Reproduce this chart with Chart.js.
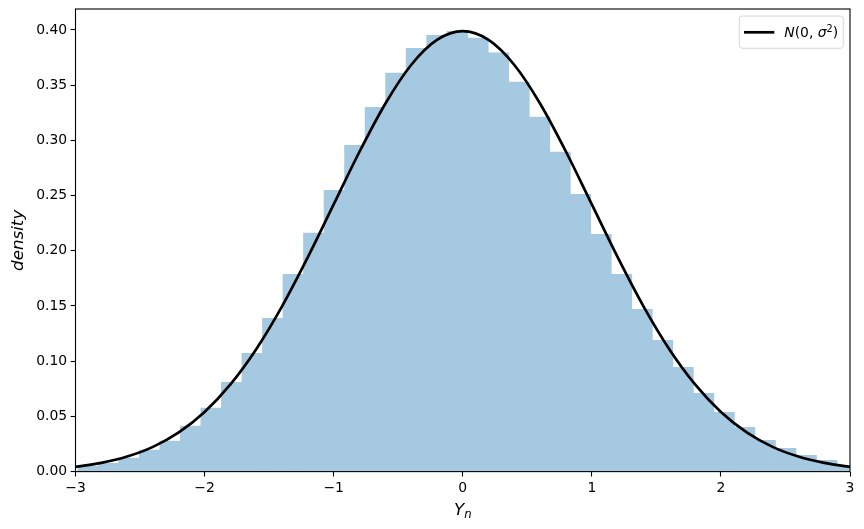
<!DOCTYPE html>
<html><head><meta charset="utf-8">
<script src="https://cdn.jsdelivr.net/npm/chart.js@4"></script>
<style>html,body{margin:0;padding:0;background:#fff}canvas{display:block}</style>
</head><body>
<canvas id="c" width="864" height="529"></canvas>
<script>
// Histogram bins (centers) and density heights
const binCenters = [-2.902,-2.744,-2.585,-2.426,-2.267,-2.108,-1.949,-1.790,-1.631,-1.472,
  -1.313,-1.154,-0.995,-0.836,-0.677,-0.518,-0.359,-0.200,-0.041,0.118,
  0.277,0.436,0.595,0.754,0.912,1.071,1.230,1.389,1.548,1.707,
  1.866,2.025,2.184,2.343,2.502,2.661,2.820,2.979];
const binDensity = [0.0050,0.0078,0.0126,0.0199,0.0280,0.0416,0.0578,0.0812,0.1074,0.1392,
  0.1790,0.2164,0.2551,0.2958,0.3302,0.3613,0.3837,0.3955,0.3990,0.3930,
  0.3795,0.3532,0.3215,0.2898,0.2515,0.2152,0.1790,0.1473,0.1192,0.0947,
  0.0712,0.0540,0.0404,0.0286,0.0214,0.0150,0.0105,0.0060];
// Reference curve N(0, sigma^2)
const curveX = [-3.0,-2.8,-2.6,-2.4,-2.2,-2.0,-1.8,-1.6,-1.4,-1.2,-1.0,-0.8,-0.6,-0.4,-0.2,0.0,
  0.2,0.4,0.6,0.8,1.0,1.2,1.4,1.6,1.8,2.0,2.2,2.4,2.6,2.8,3.0];
const curveY = [0.0044,0.0079,0.0136,0.0224,0.0355,0.0540,0.0790,0.1109,0.1497,0.1942,0.2420,0.2897,0.3332,0.3683,0.3910,0.3989,
  0.3910,0.3683,0.3332,0.2897,0.2420,0.1942,0.1497,0.1109,0.0790,0.0540,0.0355,0.0224,0.0136,0.0079,0.0044];
const xTicks = [-3,-2,-1,0,1,2,3];
const yTicks = [0,0.05,0.10,0.15,0.20,0.25,0.30,0.35,0.40];
const xRange = [-3, 3];
const yRange = [0, 0.419];

const FONT = '"DejaVu Sans"';
const FS = 13.9, FL = 16.7;

function drawParts(ctx, parts, x, y) {
  for (const p of parts) {
    ctx.font = (p.it ? 'italic ' : '') + (p.s || FS) + 'px ' + FONT;
    ctx.fillText(p.t, x, y + (p.dy || 0));
    x += ctx.measureText(p.t).width;
  }
  return x;
}
function partsWidth(ctx, parts) {
  let w = 0;
  for (const p of parts) {
    ctx.font = (p.it ? 'italic ' : '') + (p.s || FS) + 'px ' + FONT;
    w += ctx.measureText(p.t).width;
  }
  return w;
}

const overlay = {
  id: 'overlay',
  afterDraw(chart) {
    const ctx = chart.ctx, a = chart.chartArea;
    ctx.save();
    ctx.strokeStyle = '#000'; ctx.lineWidth = 1.1;
    ctx.strokeRect(a.left, a.top, a.right - a.left, a.bottom - a.top);
    const bw = 104, bh = 32.3;
    const bx = a.right - 6.7 - bw, by = a.top + 7;
    ctx.beginPath();
    ctx.roundRect(bx, by, bw, bh, 3);
    ctx.fillStyle = 'rgba(255,255,255,0.8)'; ctx.fill();
    ctx.strokeStyle = '#d6d6d6'; ctx.lineWidth = 1; ctx.stroke();
    ctx.beginPath();
    ctx.moveTo(bx + 4.7, by + 16.3); ctx.lineTo(bx + 35, by + 16.3);
    ctx.strokeStyle = '#000'; ctx.lineWidth = 2.7; ctx.stroke();
    ctx.fillStyle = '#000'; ctx.textBaseline = 'alphabetic'; ctx.textAlign = 'left';
    drawParts(ctx, [
      {t:'N', it:true}, {t:'(0, '}, {t:'σ', it:true}, {t:'2', s:FS*0.7, dy:-5.5}, {t:')'}
    ], bx + 45, by + 21);
    const xl = [{t:'Y', it:true, s:FL}, {t:'n', it:true, s:FL*0.7, dy:3}];
    const w = partsWidth(ctx, xl);
    drawParts(ctx, xl, (a.left + a.right) / 2 - w / 2, 515);
    ctx.translate(19, (a.top + a.bottom) / 2);
    ctx.rotate(-Math.PI / 2);
    ctx.textAlign = 'center'; ctx.textBaseline = 'middle';
    ctx.font = 'italic ' + FL + 'px ' + FONT;
    ctx.fillText('density', 0, 0);
    ctx.restore();
  }
};

new Chart(document.getElementById('c'), {
  type: 'bar',
  data: {
    datasets: [
      {
        type: 'line', order: 0,
        data: curveX.map((x, i) => ({x, y: curveY[i]})),
        borderColor: '#000', borderWidth: 2.7, pointRadius: 0,
        cubicInterpolationMode: 'monotone', fill: false, clip: 0
      },
      {
        type: 'bar', order: 1,
        data: binCenters.map((x, i) => ({x, y: binDensity[i]})),
        backgroundColor: 'rgb(165,201,225)', borderWidth: 0,
        barPercentage: 1, categoryPercentage: 1.04, clip: 0
      }
    ]
  },
  options: {
    responsive: false, animation: false, devicePixelRatio: 1,
    layout: { padding: { left: 0, right: 14, top: 9, bottom: 0 } },
    plugins: { legend: { display: false }, tooltip: { enabled: false } },
    scales: {
      x: {
        type: 'linear', min: xRange[0], max: xRange[1], offset: false,
        afterFit(s) { s.height = 529 - 471.6; s.paddingLeft = 0; s.paddingRight = 0; },
        afterBuildTicks(s) { s.ticks = xTicks.map(v => ({value: v})); },
        border: { display: false },
        grid: { offset: false, drawOnChartArea: false, drawTicks: true, tickLength: 4.9, tickColor: '#000', tickWidth: 1.1 },
        ticks: { color: '#000', padding: 3.5, maxRotation: 0, font: { family: 'DejaVu Sans', size: FS },
          callback: v => String(v).replace('-', '\u2212') }
      },
      y: {
        type: 'linear', min: yRange[0], max: yRange[1],
        afterFit(s) { s.width = 75.5; s.paddingTop = 0; s.paddingBottom = 0; },
        afterBuildTicks(s) { s.ticks = yTicks.map(v => ({value: v})); },
        border: { display: false },
        grid: { offset: false, drawOnChartArea: false, drawTicks: true, tickLength: 4.9, tickColor: '#000', tickWidth: 1.1 },
        ticks: { color: '#000', padding: 3.5, font: { family: 'DejaVu Sans', size: FS },
          callback: v => Number(v).toFixed(2) }
      }
    }
  },
  plugins: [overlay]
});
</script>
</body></html>
